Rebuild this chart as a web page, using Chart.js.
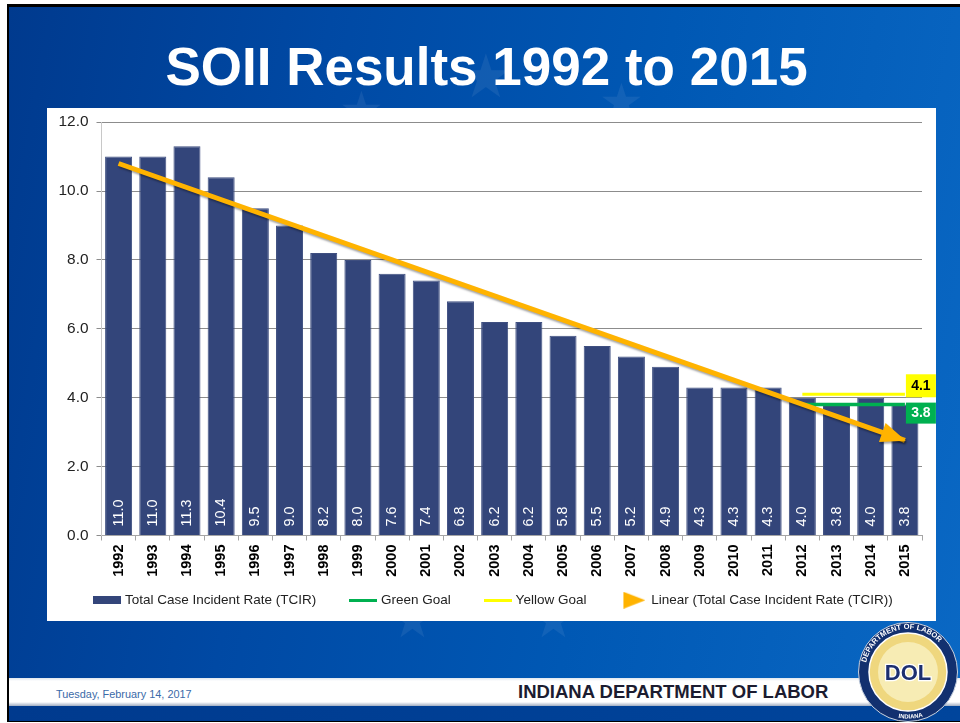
<!DOCTYPE html>
<html><head><meta charset="utf-8">
<script src="https://cdn.jsdelivr.net/npm/chart.js@4"></script>
<style>
html,body{margin:0;padding:0;background:#fff;width:960px;height:723px;overflow:hidden;font-family:"Liberation Sans",Arial,sans-serif}
#slide{position:absolute;left:7px;top:4px;width:953px;height:718px;box-sizing:border-box;border:solid #000;border-width:3px 0 2px 2px;background:linear-gradient(100deg,#003a8e 0%,#0049a4 30%,#0058b4 62%,#0a68c4 100%);overflow:hidden}
.star{position:absolute;color:rgba(255,255,255,.07);line-height:1}
#title{position:fixed;left:0;top:40px;width:973px;text-align:center;color:#fff;font-weight:700;font-size:53px;line-height:1}
#panel{position:fixed;left:47px;top:108px;width:889px;height:513px;background:#fff}
#foot{position:fixed;left:9px;top:678px;width:951px;height:28px;background:linear-gradient(#dfe6ee 0,#fff 3px,#fff 24px,#9fadc2 28px)}
#under{position:fixed;left:9px;top:706px;width:951px;height:15px;background:linear-gradient(90deg,#003a8e,#00459c)}
#date{position:fixed;left:56px;top:688px;font-size:10.9px;color:#3b6aa8}
#org{position:fixed;left:518px;top:681px;font-size:18.5px;font-weight:700;color:#1c1c30;white-space:nowrap}
#seal{position:fixed;left:858px;top:622px}
canvas{display:block}
</style></head><body>
<div id="slide">
<div class="star" style="left:330px;top:78px;font-size:50px">★</div>
<div class="star" style="left:450px;top:40px;font-size:60px">★</div>
<div class="star" style="left:590px;top:70px;font-size:50px">★</div>
<div class="star" style="left:381px;top:588px;font-size:50px">★</div>
<div class="star" style="left:522px;top:588px;font-size:50px">★</div>
</div>
<div id="title">SOII Results 1992 to 2015</div>
<div id="panel"><canvas id="c" width="889" height="513" style="width:889px;height:513px"></canvas></div>
<div id="foot"></div>
<div id="under"></div>
<div id="date">Tuesday, February 14, 2017</div>
<div id="org">INDIANA DEPARTMENT OF LABOR</div>
<svg id="seal" width="100" height="100" viewBox="0 0 100 100">
<circle cx="50" cy="50" r="49.5" fill="#12306f" stroke="#c9d3e0" stroke-width="1"/>
<circle cx="50" cy="50" r="39" fill="#efd77e" stroke="#fff" stroke-width="1.5"/>
<circle cx="50" cy="50" r="30" fill="#f7ecb4"/>
<text x="50" y="58" text-anchor="middle" font-family="Liberation Sans" font-weight="700" font-size="22" fill="#1d2f6f" stroke="#fff" stroke-width="2.5" paint-order="stroke">DOL</text>
<defs><path id="a1" d="M7,50 a43,43 0 0 1 86,0"/><path id="a2" d="M30,93 Q50,100 70,93"/></defs>
<text font-family="Liberation Sans" font-weight="700" font-size="7.5" fill="#fff"><textPath href="#a1" startOffset="7%">DEPARTMENT OF LABOR</textPath></text>
<text font-family="Liberation Sans" font-weight="700" font-size="6" fill="#fff"><textPath href="#a2" startOffset="26%">INDIANA</textPath></text>
</svg>
<script>
const years = ["1992","1993","1994","1995","1996","1997","1998","1999","2000","2001","2002","2003","2004","2005","2006","2007","2008","2009","2010","2011","2012","2013","2014","2015"];
const tcir = [11.0,11.0,11.3,10.4,9.5,9.0,8.2,8.0,7.6,7.4,6.8,6.2,6.2,5.8,5.5,5.2,4.9,4.3,4.3,4.3,4.0,3.8,4.0,3.8];
const greenGoal = [null,null,null,null,null,null,null,null,null,null,null,null,null,null,null,null,null,null,null,null,3.8,3.8,3.8,3.8];
const yellowGoal = [null,null,null,null,null,null,null,null,null,null,null,null,null,null,null,null,null,null,null,null,4.1,4.1,4.1,4.1];
const linearTrend = [10.8,null,null,null,null,null,null,null,null,null,null,null,null,null,null,null,null,null,null,null,null,null,null,2.76];
const yTicks = [0,2,4,6,8,10,12];

const NAVY="#33457a", GREEN="#00b050", YELLOW="#ffff00", ORANGE="#ffb300";
const LEGEND_SHIFT_X=10;
function swatch(w,h,draw){const k=document.createElement('canvas');k.width=w;k.height=h;draw(k.getContext('2d'));return k;}
const swatches=[
 swatch(28,8,g=>{g.fillStyle=NAVY;g.fillRect(0,0,28,8);}),
 swatch(28,3,g=>{g.fillStyle=GREEN;g.fillRect(0,0,28,3);}),
 swatch(28,3,g=>{g.fillStyle=YELLOW;g.fillRect(0,0,28,3);}),
 swatch(24,17,g=>{g.fillStyle=ORANGE;g.beginPath();g.moveTo(2,0);g.lineTo(24,8.5);g.lineTo(2,17);g.closePath();g.fill();})
];

const overlay={id:'overlay',
 afterLayout(chart){
  chart.scales.x.bottom=chart.height;
  const l=chart.legend;
  l.left+=LEGEND_SHIFT_X;l.right+=LEGEND_SHIFT_X;
 },
 beforeDatasetDraw(chart,args){
  if(args.index===3){const g=chart.ctx;g.save();g.shadowColor='rgba(0,0,0,.35)';g.shadowBlur=2;g.shadowOffsetX=1;g.shadowOffsetY=2;}
 },
 afterDatasetDraw(chart,args){ if(args.index===3) chart.ctx.restore(); },
 afterDraw(chart){
  const g=chart.ctx,x=chart.scales.x,y=chart.scales.y,n=years.length-1;
  // white rotated value labels inside the bars
  g.save();g.fillStyle="#fff";g.font="14.4px 'Liberation Sans'";g.textAlign="left";g.textBaseline="middle";
  tcir.forEach((v,i)=>{g.save();g.translate(x.getPixelForValue(i),y.getPixelForValue(0)-9);g.rotate(-Math.PI/2);g.fillText(v.toFixed(1),0,0);g.restore();});
  g.restore();
  // trend arrow head
  const x0=x.getPixelForValue(0),y0=y.getPixelForValue(linearTrend[0]),x1=x.getPixelForValue(n),y1=y.getPixelForValue(linearTrend[n]);
  const a=Math.atan2(y1-y0,x1-x0);
  g.save();g.translate(x1,y1);g.rotate(a);g.shadowColor='rgba(0,0,0,.35)';g.shadowBlur=2;g.shadowOffsetX=1;g.shadowOffsetY=2;g.fillStyle=ORANGE;g.beginPath();g.moveTo(1,0);g.lineTo(-24,-10);g.lineTo(-24,10);g.closePath();g.fill();g.restore();
  // goal value boxes
  const box=(v,bg,fg,top,h)=>{
   const px=x.getPixelForValue(n)+1;
   const py=y.getPixelForValue(v)+top;
   g.fillStyle=bg;g.fillRect(px,py,30,h);
   g.fillStyle=fg;g.font="bold 14px 'Liberation Sans'";g.textAlign="center";g.textBaseline="middle";
   g.fillText(v.toFixed(1),px+15,py+h/2+0.5);
  };
  box(yellowGoal[n],YELLOW,"#000",-20,23);
  box(greenGoal[n],GREEN,"#fff",-2,21);
 }};

new Chart(document.getElementById('c'),{
 type:'bar',
 plugins:[overlay],
 data:{labels:years,datasets:[
  {type:'bar',label:'Total Case Incident Rate (TCIR)',data:tcir,backgroundColor:NAVY,borderColor:'#3f4f80',borderWidth:1,barPercentage:0.79,categoryPercentage:1,order:4},
  {type:'line',label:'Green Goal',data:greenGoal,borderColor:GREEN,borderWidth:3.5,pointRadius:0,fill:false,order:3},
  {type:'line',label:'Yellow Goal',data:yellowGoal,borderColor:YELLOW,borderWidth:3,pointRadius:0,fill:false,order:2},
  {type:'line',label:'Linear (Total Case Incident Rate (TCIR))',data:linearTrend,spanGaps:true,borderColor:ORANGE,borderWidth:5,pointRadius:0,fill:false,order:1,borderCapStyle:'butt'}
 ]},
 options:{
  responsive:false,animation:false,
  layout:{padding:{left:0,right:14,top:14,bottom:4}},
  plugins:{
   title:{display:false},tooltip:{enabled:false},
   legend:{display:true,position:'bottom',align:'center',
    labels:{usePointStyle:true,pointStyleWidth:22,padding:36,color:'#222',font:{family:"'Liberation Sans'",size:13.5},
     generateLabels(chart){return chart.data.datasets.map((d,i)=>({text:d.label,pointStyle:swatches[i],datasetIndex:i,hidden:false,fontColor:'#222',lineWidth:0,strokeStyle:'transparent',fillStyle:'transparent'}));}
    }}
  },
  scales:{
   x:{offset:true,grid:{display:true,drawOnChartArea:false,drawTicks:true,tickLength:5,color:'#a6a6a6'},border:{color:'#a6a6a6'},
      ticks:{color:'#000',font:{family:"'Liberation Sans'",size:14.5,weight:'bold'},maxRotation:90,minRotation:90,autoSkip:false,padding:4},
      afterFit(s){s.height=22;}},
   y:{min:0,max:12,afterBuildTicks(s){s.ticks=yTicks.map(v=>({value:v}));},
      grid:{color:'#8c8c8c',lineWidth:1,drawTicks:true,tickLength:5},border:{color:'#c8c8c8'},
      ticks:{color:'#222',font:{family:"'Liberation Sans'",size:15.4,lineHeight:0.8},padding:8,callback:v=>v.toFixed(1)},
      afterFit(s){s.width=54.5;}}
  }
 }
});
</script>
</body></html>
